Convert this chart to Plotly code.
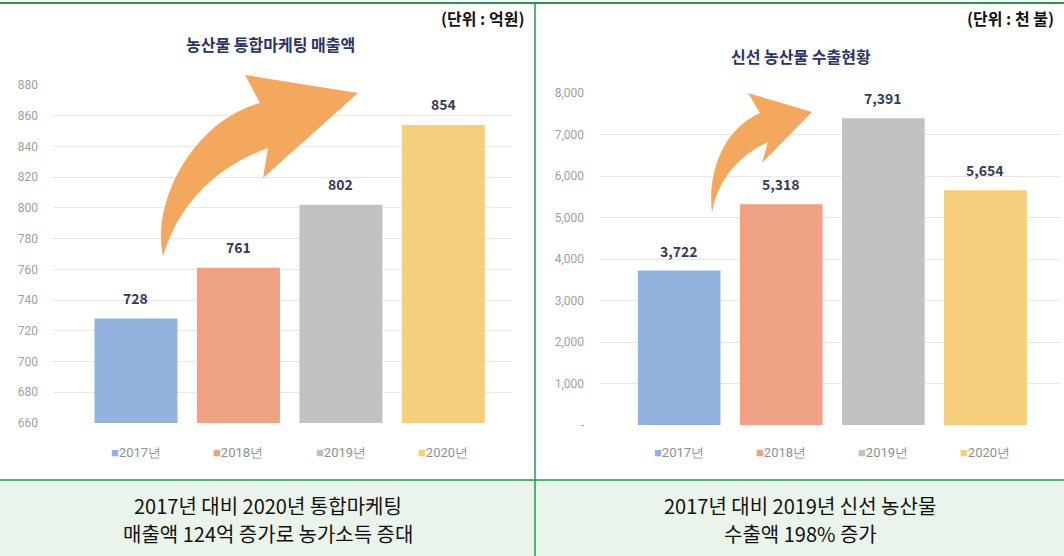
import plotly.graph_objects as go

# ---- data ----
years = ["2017년", "2018년", "2019년", "2020년"]
sales = [728, 761, 802, 854]            # 농산물 통합마케팅 매출액 (억원)
exports = [3722, 5318, 7391, 5654]      # 신선 농산물 수출 (천 불)
sales_ticks = list(range(660, 881, 20))
export_ticks = list(range(0, 8001, 1000))
export_tick_text = ["-" if v == 0 else f"{v:,}" for v in export_ticks]
bar_colors = ["#93b2de", "#eea283", "#c2c2c2", "#f6cf7c"]

left_caption = ["2017년 대비 2020년 통합마케팅", "매출액 124억 증가로 농가소득 증대"]
right_caption = ["2017년 대비 2019년 신선 농산물", "수출액 198% 증가"]

W, H = 1064, 556
KR = "Noto Sans CJK KR, Noto Sans, sans-serif"
NARROW = "Liberation Sans Narrow, Roboto, sans-serif"
GREEN = "#1f9d4c"
ARROW = "#f4a85e"


def px(x):
    return x / W


def py(y):
    return 1 - y / H


def path(cmds):
    # cmds: list of (op, [(x, y), ...]) in pixel space -> SVG path in paper space
    out = []
    for op, pts in cmds:
        coords = " ".join(f"{px(x):.5f},{py(y):.5f}" for x, y in pts)
        out.append(f"{op} {coords}")
    return " ".join(out) + " Z"


x_idx = list(range(len(years)))

fig = go.Figure()

fig.add_trace(go.Bar(
    x=x_idx, y=sales, width=0.81,
    marker=dict(color=bar_colors, line=dict(width=0)),
    xaxis="x", yaxis="y", showlegend=False, hoverinfo="skip",
))
fig.add_trace(go.Bar(
    x=x_idx, y=exports, width=0.81,
    marker=dict(color=bar_colors, line=dict(width=0)),
    xaxis="x2", yaxis="y2", showlegend=False, hoverinfo="skip",
))

grid = "#e8e8e8"
tickfont = dict(family=NARROW, size=12, color="#a0a0a0")

fig.update_layout(
    width=W, height=H,
    margin=dict(l=0, r=0, t=0, b=0, autoexpand=False),
    paper_bgcolor="white", plot_bgcolor="rgba(0,0,0,0)",
    xaxis=dict(domain=[px(53), px(512)], range=[-0.81, 3.67], automargin=False,
               showticklabels=False, showgrid=False, zeroline=False),
    yaxis=dict(domain=[py(423), py(85)], range=[660, 880], automargin=False,
               tickvals=sales_ticks, ticktext=[str(v) for v in sales_ticks],
               showgrid=True, gridcolor=grid, gridwidth=1, zeroline=False,
               tickfont=tickfont, ticks="", ticklabelstandoff=14),
    xaxis2=dict(domain=[px(600), px(1060)], range=[-0.775, 3.73], anchor="y2",
                automargin=False, showticklabels=False, showgrid=False, zeroline=False),
    yaxis2=dict(domain=[py(425), py(93)], range=[0, 8000], anchor="x2", automargin=False,
                tickvals=export_ticks, ticktext=export_tick_text,
                showgrid=True, gridcolor=grid, gridwidth=1, zeroline=False,
                tickfont=tickfont, ticks="", ticklabelstandoff=15),
)

shapes = []
# caption panel
shapes.append(dict(type="rect", xref="paper", yref="paper", x0=0, x1=1, y0=0, y1=py(480),
                   fillcolor="#eaf4ea", line=dict(width=0), layer="below"))
# frame lines
shapes.append(dict(type="line", xref="paper", yref="paper", x0=0, x1=1, y0=py(3), y1=py(3),
                   line=dict(color=GREEN, width=2)))
shapes.append(dict(type="line", xref="paper", yref="paper", x0=0, x1=1, y0=py(480), y1=py(480),
                   line=dict(color=GREEN, width=1.5)))
shapes.append(dict(type="line", xref="paper", yref="paper", x0=px(535), x1=px(535), y0=py(3), y1=0,
                   line=dict(color=GREEN, width=1.5)))

# curved growth arrows
left_arrow = path([
    ("M", [(163, 256)]),
    ("C", [(151, 200), (195, 120), (260, 103)]),
    ("L", [(245, 75)]),
    ("L", [(358, 93)]),
    ("L", [(263, 178)]),
    ("L", [(268, 148)]),
    ("C", [(220, 165), (180, 200), (163, 256)]),
])
right_arrow = path([
    ("M", [(712, 213)]),
    ("C", [(707, 170), (725, 128), (760, 113)]),
    ("L", [(748, 93)]),
    ("L", [(812, 112)]),
    ("L", [(762, 163)]),
    ("L", [(768, 142)]),
    ("C", [(740, 155), (718, 178), (712, 213)]),
])
for p in (left_arrow, right_arrow):
    shapes.append(dict(type="path", xref="paper", yref="paper", path=p,
                       fillcolor=ARROW, line=dict(width=0), layer="above"))

fig.update_layout(shapes=shapes)

ann = []
# value labels
label_font = dict(family=KR, size=14, color="#353a58")
for i, v in enumerate(sales):
    ann.append(dict(x=i, y=v, xref="x", yref="y", text=f"<b>{v}</b>", showarrow=False,
                    xanchor="center", yanchor="middle", yshift=21, font=label_font))
for i, v in enumerate(exports):
    ann.append(dict(x=i, y=v, xref="x2", yref="y2", text=f"<b>{v:,}</b>", showarrow=False,
                    xanchor="center", yanchor="middle", yshift=20, font=label_font))

# legend rows
leg_font = dict(family=NARROW, size=13, color="#8f8f8f")
for i, (yr, c) in enumerate(zip(years, bar_colors)):
    for xr in ("x", "x2"):
        ann.append(dict(x=i, y=py(452), xref=xr, yref="paper",
                        xanchor="center", yanchor="middle",
                        text=f"<span style='color:{c}'>■</span>{yr}", showarrow=False,
                        font=leg_font))

# titles
title_font = dict(family=KR, size=16, color="#2c3365")
ann.append(dict(x=px(270), y=py(44), xref="paper", yref="paper",
                xanchor="center", yanchor="middle",
                text="<b>농산물 통합마케팅 매출액</b>", showarrow=False, font=title_font))
ann.append(dict(x=px(801), y=py(56), xref="paper", yref="paper",
                xanchor="center", yanchor="middle",
                text="<b>신선 농산물 수출현황</b>", showarrow=False, font=title_font))

# units
unit_font = dict(family=KR, size=16, color="#111111")
ann.append(dict(x=px(526), y=py(18), xref="paper", yref="paper",
                xanchor="right", yanchor="middle",
                text="<b>(단위 : 억원)</b>", showarrow=False, font=unit_font))
ann.append(dict(x=px(1056), y=py(18), xref="paper", yref="paper",
                xanchor="right", yanchor="middle",
                text="<b>(단위 : 천 불)</b>", showarrow=False, font=unit_font))

# captions, one annotation per line
cap_font = dict(family=KR, size=20, color="#111111")
for cx, lines in ((268, left_caption), (800, right_caption)):
    for k, line in enumerate(lines):
        ann.append(dict(x=px(cx), y=py(505 + 28 * k), xref="paper", yref="paper",
                        xanchor="center", yanchor="middle", text=line,
                        showarrow=False, font=cap_font))

fig.update_layout(annotations=ann)

fig.write_html("out.html")
